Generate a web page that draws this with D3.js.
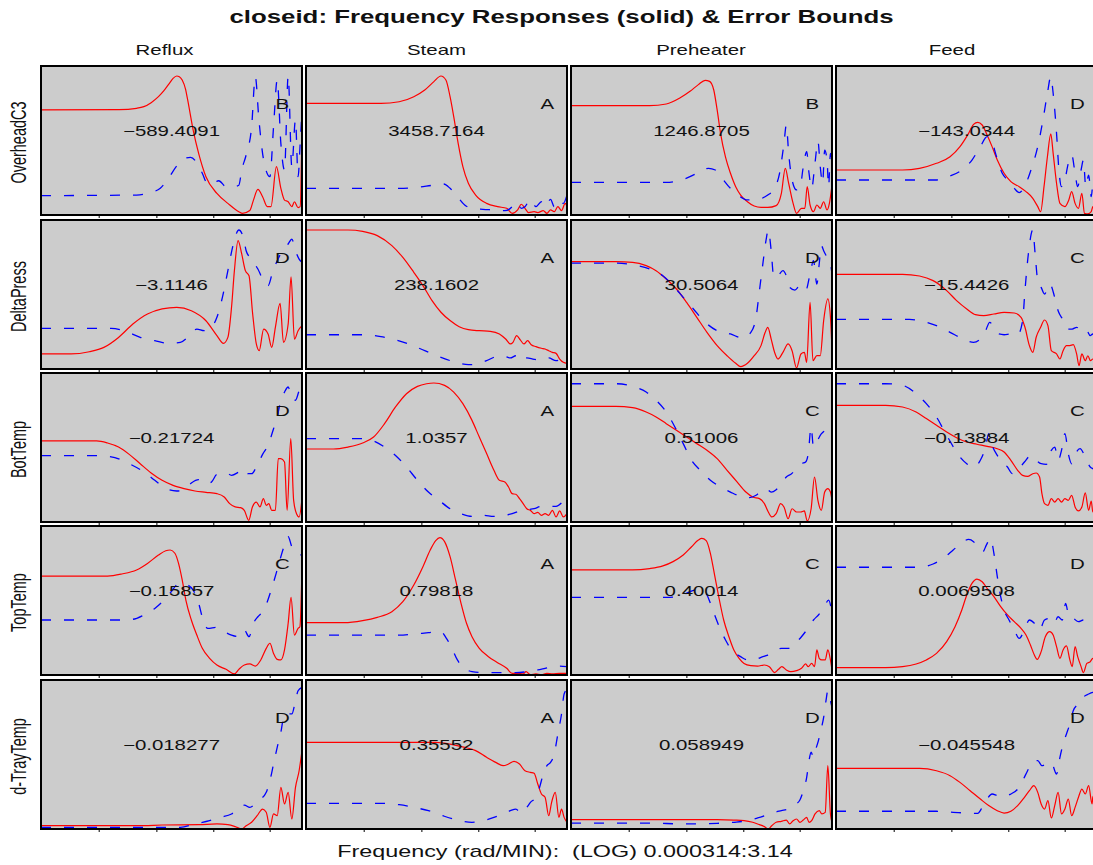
<!DOCTYPE html>
<html><head><meta charset="utf-8">
<script src="https://cdn.jsdelivr.net/npm/d3@7"></script>
<style>body{margin:0;background:#fff}svg{display:block}</style>
</head><body>
<script>
// ---------- data ----------
const inputs  = ["Reflux", "Steam", "Preheater", "Feed"];
const outputs = ["OverheadC3", "DeltaPress", "BotTemp", "TopTemp", "d-TrayTemp"];
const gains = [
  [-589.4091, 3458.7164, 1246.8705, -143.0344],
  [-3.1146, 238.1602, 30.5064, -15.4426],
  [-0.21724, 1.0357, 0.51006, -0.13884],
  [-0.15857, 0.79818, 0.40014, 0.0069508],
  [-0.018277, 0.35552, 0.058949, -0.045548]
];
const grades = [
  ["B","A","B","D"],
  ["D","A","D","C"],
  ["D","A","C","C"],
  ["C","A","C","D"],
  ["D","A","D","D"]
];
const titleText = "closeid: Frequency Responses (solid) & Error Bounds";
const xLabelText = "Frequency (rad/MIN):\u00a0\u00a0(LOG) 0.000314:3.14";
// position along the log-frequency axis (0..100 of range), tick marks
const xTicks = [22.3, 44.4, 66.2, 87.8];

// series: flat lists of (log-frequency position, scaled magnitude) pairs
// one entry per input column, for each output row
const respOverheadC3 = [
  [0,.705, 30,.707, 36.6,.716, 39.4,.727, 42.2,.754, 45,.794, 47.1,.834, 49.2,.884, 50.6,.917, 52,.933, 53,.928, 54.1,.906, 55.4,.843, 56.2,.772, 58.3,.57, 60.4,.414, 63.2,.257, 67.4,.145, 71.6,.078, 75.8,.022, 77.2,.011, 80,.03, 81.4,.1, 83.1,.172, 84.9,.123, 86.7,.056, 88.1,.056, 90.2,.324, 91.9,.179, 93.3,.1, 94.7,.089, 96.1,.056, 97.1,.089, 98.5,.05, 99.3,.056, 100,.6],
  [0,.749, 28.7,.749, 35.7,.76, 41.3,.794, 45.5,.839, 49,.895, 51.7,.933, 53.6,.906, 55.2,.794, 56.6,.66, 58.3,.481, 60.1,.325, 62.2,.213, 65,.134, 69.2,.078, 73.4,.056, 76.9,.045, 79,.011, 81.1,.034, 82.5,.072, 83.9,.045, 85.3,.016, 87.4,.022, 88.8,.016, 90.9,.029, 92.3,.011, 93.7,.034, 95.1,.022, 96.5,.056, 97.9,.029, 99.3,.078, 100,.056],
  [0,.734, 30.1,.734, 36.5,.745, 41.7,.785, 45.6,.83, 48.8,.875, 51.4,.904, 53.1,.897, 54.7,.839, 56,.705, 57.3,.548, 59.2,.388, 61.1,.28, 63.1,.19, 65,.134, 67.6,.089, 70.2,.06, 72.8,.051, 75.4,.051, 78.6,.063, 80.6,.145, 82.1,.313, 83.4,.212, 85.1,.078, 86.4,.011, 88.3,.045, 89.6,.045, 90.5,.19, 91.6,.067, 92.9,.022, 94.2,.067, 95.5,.045, 96.8,.089, 98.1,.034, 99,.078, 100,.201],
  [0,.302, 25.5,.302, 32,.313, 38.5,.347, 43.7,.391, 47.5,.459, 50.8,.548, 52.7,.608, 54.3,.622, 56,.604, 57.9,.537, 59.8,.459, 61.8,.369, 64.4,.28, 67,.224, 70.2,.19, 72.8,.157, 75.4,.112, 77.3,.056, 78.4,.022, 79.7,.19, 81,.391, 82.3,.544, 83.2,.414, 84.5,.213, 85.8,.078, 87.7,.056, 89.2,.101, 90.3,.157, 91.6,.078, 92.9,.045, 94.2,.145, 95.2,.011, 96.5,.007, 97.8,.022, 98.4,.056, 100,.03]
];
const boundOverheadC3 = [
  [0,.13, 36.6,.134, 42.2,.152, 45.7,.179, 49.2,.257, 52,.329, 54.8,.378, 57.3,.387, 59.7,.351, 61.8,.28, 63.9,.208, 66,.213, 68.1,.23, 70.9,.19, 73.7,.19, 75.8,.2, 76.9,.302, 78.6,.403, 80.7,.593, 82.1,.928, 83.5,.638, 85.3,.369, 87.7,.257, 89.1,.593, 90.5,.906, 91.9,.481, 93.3,.302, 94.7,.933, 96.1,.324, 97.5,.638, 98.5,.257, 99.3,.48, 100,.705],
  [0,.179, 35.7,.179, 42.7,.186, 48.3,.199, 52.7,.208, 55.2,.179, 58,.123, 60.8,.067, 63.6,.045, 67.8,.038, 72,.034, 76.2,.029, 79,.056, 80.4,.089, 82.5,.045, 83.9,.056, 86,.105, 88.1,.056, 90.2,.089, 91.6,.056, 93.7,.105, 95.1,.056, 97.2,.1, 98.6,.078, 100,.134],
  [0,.219, 36.5,.219, 43,.239, 48.2,.279, 52.7,.313, 55.3,.302, 57.9,.246, 61.1,.179, 64.4,.128, 67.6,.101, 71.5,.105, 75.4,.134, 78,.179, 79.9,.28, 81.6,.481, 82.5,.604, 83.4,.414, 84.7,.235, 86.4,.168, 87.7,.179, 89,.324, 90.3,.425, 91.2,.28, 92.2,.179, 93.5,.35, 94.6,.495, 95.5,.324, 96.4,.212, 97.2,.436, 98.1,.369, 98.7,.19, 99.4,.414, 100,.28],
  [0,.235, 38.5,.235, 43.7,.262, 48.2,.302, 52.1,.369, 55.3,.459, 57.9,.526, 59.5,.503, 61.5,.392, 63.7,.28, 65.7,.235, 68.3,.179, 70.2,.15, 72.2,.19, 74.7,.302, 77.3,.459, 79.3,.638, 81,.817, 82.3,.928, 83.2,.817, 84.5,.548, 85.4,.302, 86.4,.19, 87.7,.235, 89,.347, 90.3,.403, 91.6,.28, 92.6,.19, 93.9,.302, 94.8,.369, 95.7,.19, 96.8,.268, 97.8,.123, 98.4,.213, 100,.3]
];
const respDeltaPress = [
  [0,.101, 11.5,.101, 18.5,.116, 24.1,.145, 29.7,.212, 35.2,.302, 40.8,.369, 46.4,.403, 52,.414, 57.6,.391, 63.2,.324, 67.4,.224, 69.9,.172, 71.6,.212, 73,.414, 74.1,.66, 75.5,.861, 76.9,.772, 78.3,.66, 79.7,.626, 81.1,.369, 82.5,.168, 83.6,.123, 85.3,.268, 87,.235, 88.4,.145, 89.8,.28, 91.6,.441, 92.9,.179, 94.7,.302, 95.8,.619, 97.1,.2, 98.5,.257, 100,.291],
  [0,.933, 16.1,.933, 21.7,.924, 27.3,.895, 32.9,.828, 37.1,.749, 41.3,.649, 44.8,.56, 48.3,.459, 51.7,.381, 55.2,.325, 58.7,.284, 62.2,.264, 66.4,.257, 70.6,.253, 74.1,.235, 76.5,.201, 78.3,.168, 79.3,.179, 80.7,.224, 82.1,.195, 83.5,.168, 84.9,.19, 86.3,.163, 88.1,.15, 90.2,.139, 91.6,.134, 93,.123, 94.4,.112, 95.8,.105, 97.2,.067, 98.6,.045, 100,.038],
  [0,.72, 17.1,.72, 23.6,.716, 28.8,.694, 32.6,.66, 36.5,.604, 40.4,.537, 44.3,.447, 48.2,.347, 52.1,.246, 56,.157, 59.8,.089, 63.1,.038, 65,.016, 67.6,.038, 70.2,.089, 72.8,.157, 74.4,.246, 75.4,.28, 76.7,.201, 78,.112, 79.3,.067, 81.2,.112, 83.2,.168, 84.7,.123, 86.4,.007, 88.1,.101, 89.4,.112, 90.3,.045, 91.6,.447, 92.7,.056, 94.2,.09, 95.5,.09, 96.8,.324, 98.4,.47, 99.4,.35, 100,.123],
  [0,.635, 25.5,.635, 32,.624, 37.2,.593, 42.4,.526, 46.2,.459, 50.1,.403, 53.4,.365, 56.6,.358, 60.5,.369, 64.4,.38, 68.3,.376, 70.9,.347, 72.4,.28, 74.1,.157, 75.4,.112, 76.7,.213, 78.4,.28, 79.9,.329, 81.2,.291, 82.5,.123, 84.5,.101, 85.8,.067, 87,.123, 88.3,.157, 89.6,.157, 90.9,.163, 92.2,.101, 93.1,.022, 94.2,.101, 95.5,.056, 96.5,.089, 97.5,.056, 98.4,.067, 100,.05]
];
const boundDeltaPress = [
  [0,.273, 26.9,.273, 32.4,.253, 38,.213, 43.6,.19, 49.2,.172, 53.4,.179, 56.2,.213, 59.7,.268, 62.5,.257, 65.3,.28, 67.4,.347, 69.5,.481, 71.6,.66, 73.7,.839, 75.8,.933, 77.5,.884, 78.6,.794, 80,.749, 81.4,.716, 83.1,.671, 84.9,.604, 87,.559, 88.7,.649, 90.5,.727, 92.6,.794, 94.7,.839, 96.1,.872, 97.5,.794, 98.9,.738, 100,.716],
  [0,.23, 21.7,.23, 28.7,.217, 34.3,.195, 39.9,.164, 45.5,.123, 51,.083, 56.6,.049, 62.2,.029, 65.7,.034, 69.2,.056, 72.7,.083, 75.5,.089, 78.3,.074, 80.4,.089, 82.1,.056, 84.6,.074, 87.4,.065, 90.2,.06, 93,.074, 95.8,.056, 97.9,.067, 100,.089],
  [0,.711, 17.1,.711, 23.6,.7, 30.1,.671, 35.2,.626, 39.1,.559, 43,.481, 46.9,.403, 50.8,.324, 56,.257, 61.1,.235, 65.7,.208, 68.9,.246, 70.9,.347, 72.2,.526, 73.5,.705, 74.7,.861, 75.6,.933, 76.7,.794, 77.7,.615, 79.3,.626, 81.2,.66, 82.5,.626, 83.8,.548, 85.8,.53, 87.7,.559, 89.9,.526, 91.6,.638, 92.9,.727, 94.2,.57, 95.1,.705, 95.9,.828, 96.8,.794, 98.1,.749, 99.4,.705, 100,.638],
  [0,.333, 28.1,.333, 33.3,.32, 38.5,.291, 43.7,.246, 48.8,.201, 52.7,.179, 55.3,.201, 57.3,.257, 58.9,.313, 60.5,.28, 62.4,.235, 64.4,.23, 67,.235, 69.6,.23, 71.5,.324, 72.4,.526, 73.7,.772, 75.4,.933, 76.3,.772, 77.3,.593, 78.6,.548, 79.9,.503, 81.9,.57, 83.8,.481, 85.1,.391, 86.4,.347, 87.7,.324, 89,.268, 90.5,.268, 92.2,.28, 94.2,.246, 96.1,.257, 97.4,.224, 98.4,.235, 100,.22]
];
const respBotTemp = [
  [0,.544, 21.3,.544, 25.5,.53, 29.7,.503, 33.8,.454, 38,.391, 42.2,.329, 46.4,.28, 50.6,.246, 54.8,.224, 59,.208, 63.2,.199, 67.4,.19, 70.2,.168, 72.3,.123, 74.4,.101, 76.5,.096, 77.9,.078, 79.6,.011, 81,.101, 82.5,.134, 83.9,.101, 85.2,.157, 86.3,.112, 87.3,.123, 88.4,.078, 89.8,.078, 90.9,.425, 91.9,.425, 93.3,.403, 94.3,.078, 95.7,.559, 96.8,.145, 97.9,.056, 98.9,.034, 100,.157],
  [0,.49, 10.5,.49, 16.1,.503, 21.7,.53, 25.9,.57, 30.1,.66, 34.3,.772, 38.5,.861, 42.7,.91, 46.2,.928, 49,.933, 53.1,.917, 56.6,.872, 60.1,.794, 63.6,.682, 66.4,.57, 69.2,.459, 72,.347, 74.1,.28, 76.2,.268, 77.6,.235, 79,.19, 80.4,.186, 81.8,.157, 83.2,.123, 84.6,.089, 86,.078, 87.4,.056, 88.8,.065, 90.2,.045, 91.6,.056, 93,.045, 94.4,.078, 95.8,.034, 97.2,.074, 98.6,.034, 100,.056],
  [0,.776, 17.1,.776, 23.6,.767, 28.8,.738, 32.6,.705, 36.5,.66, 40.4,.615, 44.3,.57, 48.2,.526, 52.1,.481, 56,.425, 59.8,.347, 63.7,.268, 67,.201, 69.6,.168, 72.2,.157, 74.1,.123, 75.4,.074, 76.9,.034, 78.6,.056, 80.3,.123, 81.6,.101, 83.2,.022, 84.7,.089, 86.4,.067, 88,.067, 89.4,.074, 90.5,.007, 92,.089, 93.3,.302, 94.6,.145, 95.9,.078, 97.2,.201, 98.4,.224, 99.4,.201, 100,.145],
  [0,.783, 19,.783, 25.5,.772, 30.7,.738, 34.6,.694, 38.5,.649, 42.4,.604, 46.2,.566, 50.1,.537, 54,.522, 57.9,.508, 61.8,.492, 64.4,.47, 67,.414, 69.6,.347, 71.5,.313, 73.4,.306, 75.4,.324, 76.7,.329, 78,.302, 78.9,.19, 79.9,.123, 81.2,.112, 82.5,.157, 83.8,.134, 85.1,.157, 86.4,.134, 87.7,.157, 89,.145, 90.3,.179, 91.6,.101, 92.9,.074, 94.2,.101, 95.5,.195, 96.8,.078, 97.8,.141, 98.4,.067, 100,.1]
];
const boundBotTemp = [
  [0,.445, 22.7,.445, 28.3,.432, 33.8,.391, 39.4,.336, 43.6,.28, 47.8,.224, 52,.208, 54.8,.217, 57.6,.262, 60.4,.284, 63.2,.257, 65.3,.268, 67.4,.32, 70.9,.329, 73,.313, 75.8,.336, 77.9,.358, 79.3,.324, 80.7,.324, 82.8,.38, 84.9,.454, 87,.515, 89.1,.626, 90.5,.705, 91.9,.817, 93.3,.872, 94.7,.906, 96.1,.828, 97.5,.817, 98.9,.879, 100,.906],
  [0,.559, 21.7,.559, 25.9,.544, 30.1,.503, 34.3,.447, 38.5,.369, 42.7,.28, 46.9,.201, 51,.145, 55.2,.089, 59.4,.056, 63.6,.038, 67.8,.045, 72,.038, 76.2,.045, 79,.056, 81.8,.074, 84.6,.083, 87.4,.089, 90.2,.105, 93,.105, 95.8,.105, 97.9,.128, 100,.179],
  [0,.928, 17.1,.928, 23.6,.91, 28.8,.872, 32.6,.817, 36.5,.738, 39.8,.638, 43,.526, 46.2,.414, 49.5,.347, 53.4,.28, 57.3,.235, 61.1,.201, 65,.172, 68.3,.163, 70.9,.179, 72.8,.208, 74.7,.224, 76.7,.201, 78.6,.217, 80.6,.257, 82.5,.302, 84.5,.324, 86.4,.358, 88.3,.391, 89.9,.403, 90.9,.459, 92,.638, 92.9,.503, 94.2,.537, 95.5,.582, 97.2,.615, 98.4,.649, 100,.682],
  [0,.928, 19,.928, 25.5,.917, 30.7,.861, 34.6,.794, 38.5,.705, 41.7,.604, 45,.503, 47.5,.436, 50.1,.391, 52.7,.369, 55.3,.414, 57.3,.503, 58.5,.593, 59.8,.515, 61.8,.447, 63.7,.403, 65.7,.369, 67.6,.324, 69.6,.347, 72.2,.403, 74.7,.447, 76.7,.414, 78.6,.391, 80.6,.387, 82.5,.481, 83.8,.503, 85.1,.414, 86.4,.481, 87.7,.593, 89,.459, 90.3,.391, 91.8,.459, 93.5,.492, 95.5,.436, 97.4,.369, 98.4,.358, 100,.35]
];
const respTopTemp = [
  [0,.664, 25.5,.664, 31,.678, 36.6,.705, 40.8,.749, 45,.805, 47.8,.834, 49.5,.839, 51.3,.817, 52.7,.749, 54.1,.638, 55.5,.503, 57.6,.369, 59.7,.268, 61.8,.179, 64.6,.112, 67.4,.067, 70.9,.038, 74.1,.007, 75.8,.038, 77.9,.067, 80,.074, 82.1,.06, 84.2,.101, 86.3,.179, 87.7,.213, 89.1,.145, 90.5,.105, 91.9,.101, 93.3,.168, 94.7,.347, 95.8,.521, 97.1,.268, 98.5,.313, 99.2,.324, 100,.716],
  [0,.351, 14.7,.351, 21.7,.365, 27.3,.387, 32.9,.425, 37.1,.492, 41.3,.604, 44.8,.727, 47.6,.839, 49.7,.902, 51.3,.922, 53.1,.895, 55.2,.794, 57.3,.638, 59.4,.481, 61.5,.347, 63.6,.257, 66.4,.179, 69.9,.123, 73.4,.083, 76.9,.045, 79,.011, 81.1,.011, 83.2,.007, 84.3,.022, 86,.002, 88.1,.007, 90.2,.002, 92.3,.011, 94.4,.007, 97.2,.011, 100,.011],
  [0,.705, 23.6,.705, 30.1,.714, 35.2,.732, 39.1,.761, 43,.805, 46.2,.861, 48.8,.906, 50.1,.917, 51.8,.902, 53.4,.817, 54.9,.682, 56.6,.526, 58.5,.369, 60.5,.257, 62.4,.168, 64.4,.112, 66.3,.078, 68.9,.063, 71.5,.06, 74.1,.067, 76,.056, 78,.016, 79.5,.038, 80.8,.056, 82.5,.034, 84.2,.022, 86.4,.029, 88.3,.045, 89.9,.074, 90.9,.056, 92.2,.078, 93.3,.056, 94.2,.168, 95.1,.112, 96.1,.101, 97.4,.101, 98.4,.168, 99.4,.101, 100,.034],
  [0,.049, 19,.049, 25.5,.056, 30.7,.074, 34.6,.101, 38.5,.145, 42.4,.224, 45.6,.324, 48.2,.436, 50.1,.537, 52.1,.615, 54,.644, 56,.626, 57.9,.582, 60.5,.526, 63.1,.459, 65.7,.403, 68.3,.358, 70.9,.313, 72.8,.268, 74.5,.201, 76,.134, 77.1,.105, 78.6,.157, 80.2,.257, 81.9,.291, 83.2,.268, 84.5,.19, 85.8,.112, 87,.168, 88.3,.195, 89.6,.101, 90.5,.056, 91.6,.19, 92.6,.123, 93.9,.056, 94.8,.016, 96.1,.078, 97.4,.089, 98.4,.112, 100,.1]
];
const boundTopTemp = [
  [0,.369, 29.7,.369, 35.2,.374, 39.4,.403, 43.6,.447, 47.1,.503, 49.9,.559, 52,.604, 54.1,.615, 56.2,.604, 58.3,.57, 60.4,.481, 62.1,.369, 63.9,.313, 67.4,.32, 70.2,.291, 73,.268, 75.8,.257, 77.9,.302, 79.7,.257, 81.4,.347, 83.1,.391, 84.9,.425, 86.7,.492, 88.4,.582, 90.1,.682, 91.9,.794, 93.3,.872, 94.7,.928, 96.1,.861, 97.5,.828, 98.9,.817, 100,.799],
  [0,.268, 35.7,.268, 41.3,.275, 46.9,.284, 51.7,.291, 53.8,.246, 55.9,.179, 58,.101, 60.8,.045, 63.6,.022, 67.8,.016, 72,.016, 80.4,.016, 84.6,.022, 88.8,.034, 91.6,.045, 94.4,.056, 97.2,.06, 100,.056],
  [0,.521, 36.5,.521, 41.7,.53, 45.6,.559, 48.8,.575, 50.8,.559, 52.1,.537, 53.4,.481, 55.3,.391, 57.3,.302, 59.2,.235, 61.1,.179, 63.1,.145, 65,.123, 67.6,.101, 70.2,.101, 72.8,.119, 75.4,.134, 78,.157, 80.6,.179, 83.2,.179, 85.8,.213, 88.3,.257, 90.3,.302, 91.6,.336, 92.9,.369, 94.8,.403, 96.8,.447, 98.7,.503, 100,.414],
  [0,.723, 32,.723, 37.2,.745, 41.1,.783, 44.9,.839, 48.2,.888, 50.8,.91, 52.7,.895, 54.7,.85, 56.3,.828, 57.6,.872, 59.2,.917, 60.5,.817, 61.8,.66, 63.1,.526, 64.4,.436, 66.3,.369, 68.3,.302, 70.2,.246, 72.2,.302, 74.1,.369, 76,.347, 78,.302, 79.9,.369, 81.9,.38, 83.5,.347, 85.1,.391, 86.7,.369, 88,.481, 89.2,.391, 90.9,.38, 92.9,.358, 94.8,.369, 96.8,.358, 98.4,.324, 100,.32]
];
const respTrayTemp = [
  [0,.022, 39.4,.022, 46.4,.027, 60.4,.029, 67.4,.034, 71.6,.029, 74.4,.016, 76.9,.0, 78.6,.022, 80.7,.045, 82.8,.089, 84.9,.134, 86.3,.112, 87.7,.011, 89.1,.101, 90.5,.089, 91.9,.279, 93.3,.168, 94.7,.246, 96.1,.067, 97.5,.279, 98.9,.391, 100,.526],
  [0,.582, 49.7,.582, 55.2,.57, 60.8,.548, 65,.526, 69.2,.481, 72.7,.447, 75.5,.425, 77.6,.436, 79.7,.454, 81.8,.436, 83.9,.391, 86,.38, 87.4,.374, 88.8,.302, 90.2,.235, 91.6,.213, 93,.089, 94.1,.179, 95.5,.246, 96.9,.078, 97.9,.134, 98.9,.078, 100,.045],
  [0,.063, 56,.063, 62.4,.06, 66.3,.056, 69.6,.045, 72.2,.029, 74.1,.016, 75.6,.0, 76.9,.022, 78.6,.045, 80.6,.051, 82.5,.06, 83.8,.034, 85.1,.056, 86.4,.067, 87.7,.045, 89,.06, 90.3,.078, 91.2,.045, 92.2,.056, 93.5,.101, 95.1,.123, 96.1,.101, 97.4,.112, 98.4,.425, 99.4,.101, 100,.045],
  [0,.407, 32,.407, 38.5,.391, 43.7,.358, 47.5,.313, 51.4,.257, 55.3,.201, 58.5,.157, 61.8,.123, 64.4,.107, 67,.119, 69.6,.157, 72.2,.213, 74.1,.257, 75.8,.291, 77.3,.246, 78.6,.168, 79.9,.134, 81.2,.19, 82.5,.074, 83.8,.157, 85.1,.246, 86.4,.101, 87.7,.134, 89,.201, 90.3,.089, 91.6,.145, 92.9,.213, 94.2,.268, 95.5,.235, 96.8,.291, 98.1,.168, 98.4,.213, 100,.25]
];
const boundTrayTemp = [
  [0,.011, 53.4,.011, 59,.034, 64.6,.056, 68.8,.078, 73,.101, 75.8,.134, 77.9,.16, 80,.145, 82.1,.168, 84.2,.201, 86.3,.246, 87.7,.324, 89.1,.436, 90.5,.548, 91.9,.649, 93.3,.772, 94.7,.772, 96.1,.772, 97.5,.861, 98.5,.928, 100,.95],
  [0,.172, 30.1,.172, 35.7,.163, 41.3,.145, 46.9,.123, 52.4,.089, 58,.06, 63.6,.045, 67.8,.056, 72,.078, 75.5,.101, 78.3,.123, 80.4,.134, 82.5,.105, 84.6,.145, 86,.179, 88.1,.213, 89.5,.28, 90.9,.369, 92.3,.425, 93.7,.447, 95.1,.503, 96.5,.638, 97.9,.772, 98.9,.906, 100,.935],
  [0,.04, 30.1,.04, 43,.034, 56,.038, 62.4,.045, 67.6,.056, 71.5,.074, 75.4,.096, 78,.112, 80.6,.123, 83.2,.134, 85.8,.163, 87.7,.195, 89,.257, 90.3,.347, 91.2,.459, 92,.515, 92.9,.481, 93.8,.537, 94.8,.593, 95.7,.66, 96.8,.749, 97.7,.861, 98.4,.928, 99.4,.861, 100,.817],
  [0,.119, 38.5,.119, 44.9,.112, 54.3,.105, 56,.145, 57.9,.201, 59.8,.235, 61.8,.224, 64.4,.217, 67,.235, 69.6,.268, 71.5,.324, 73.4,.391, 75.4,.454, 77.3,.459, 78.9,.425, 80.6,.436, 82.5,.447, 84.5,.369, 85.8,.481, 87,.57, 88.3,.638, 89.6,.705, 90.9,.794, 92.2,.828, 93.5,.839, 94.8,.884, 96.8,.906, 98.4,.917, 100,.92]
];
const responses = [respOverheadC3, respDeltaPress, respBotTemp, respTopTemp, respTrayTemp];
const bounds    = [boundOverheadC3, boundDeltaPress, boundBotTemp, boundTopTemp, boundTrayTemp];

// ---------- layout ----------
const W = 1093, H = 865;
const SX = 1.46;               // horizontal stretch of the original rendering
const FONT = "'Liberation Sans', Arial, Helvetica, sans-serif";
const panelW = 261, panelH = 149;
const colLeft = [41, 306, 571, 836];
const rowTop  = [66, 220, 373, 526, 680];
const headerX = [164.5, 436.5, 701, 952];

const toPairs = arr => d3.range(0, arr.length, 2).map(i => [arr[i], arr[i + 1]]);

const svg = d3.select("body").append("svg").attr("width", W).attr("height", H)
  .style("font-family", FONT);

const x = d3.scaleLinear().domain([0, 100]).range([0, panelW]);
const y = d3.scaleLinear().domain([0, 1]).range([panelH, 0]);
const line = d3.line().x(d => x(d[0])).y(d => y(d[1])).curve(d3.curveMonotoneX);

svg.append("defs").append("clipPath").attr("id", "pclip")
  .append("rect").attr("x", 0).attr("y", 0).attr("width", panelW).attr("height", panelH);

function stretchedText(parent, tx, ty, txt, size, weight, anchor) {
  parent.append("g").attr("transform", `translate(${tx},${ty}) scale(${SX},1)`)
    .append("text").attr("text-anchor", anchor || "middle")
    .attr("font-size", size).attr("font-weight", weight || "normal")
    .attr("fill", "#111").text(txt);
}

// title
stretchedText(svg, 561.5, 23, titleText, 17.7, "bold");
// column headers
inputs.forEach((c, j) => stretchedText(svg, headerX[j], 55, c, 14));
// x label
stretchedText(svg, 565, 857, xLabelText, 16);

outputs.forEach((rname, i) => {
  // row label (rotated)
  svg.append("g").attr("transform", `translate(26,${rowTop[i] + panelH / 2 + 2}) scale(${SX},1) rotate(-90)`)
    .append("text").attr("text-anchor", "middle").attr("font-size", 14.5)
    .attr("fill", "#111").text(rname);

  inputs.forEach((cname, j) => {
    const g = svg.append("g").attr("transform", `translate(${colLeft[j]},${rowTop[i]})`);
    g.append("rect").attr("width", panelW).attr("height", panelH).attr("fill", "#cccccc");
    const gc = g.append("g").attr("clip-path", "url(#pclip)");
    gc.append("path").attr("d", line(toPairs(responses[i][j])))
      .attr("fill", "none").attr("stroke", "#ff0000").attr("stroke-width", 1.2);
    gc.append("path").attr("d", line(toPairs(bounds[i][j])))
      .attr("fill", "none").attr("stroke", "#0000ff").attr("stroke-width", 1.3)
      .attr("stroke-dasharray", "10,13");
    // gain and grade
    stretchedText(g, panelW / 2, 70, String(gains[i][j]).replace("-", "\u2212"), 14);
    stretchedText(g, x(92.5), 42.5, grades[i][j], 14);
    // ticks
    g.selectAll("line.tick").data(xTicks).enter().append("line")
      .attr("x1", d => x(d)).attr("x2", d => x(d))
      .attr("y1", panelH).attr("y2", panelH + 3)
      .attr("stroke", "#000").attr("stroke-width", 1);
    g.append("rect").attr("width", panelW).attr("height", panelH)
      .attr("fill", "none").attr("stroke", "#000").attr("stroke-width", 2);
  });
});
</script>
</body></html>
